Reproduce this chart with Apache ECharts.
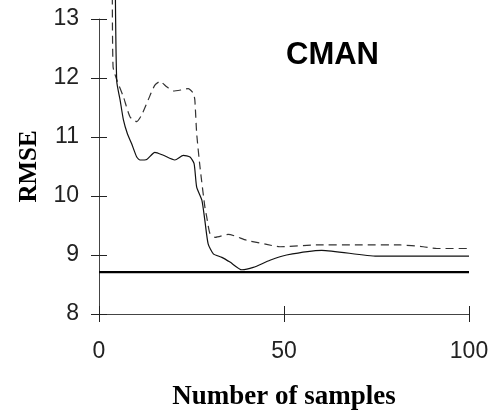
<!DOCTYPE html>
<html>
<head>
<meta charset="utf-8">
<script src="https://cdn.jsdelivr.net/npm/echarts@6/dist/echarts.min.js"></script>
<style>
  html, body { margin: 0; padding: 0; background: #fff; }
  #chart { width: 499px; height: 417px; }
</style>
</head>
<body>
<div id="chart"></div>
<script>
// solid curve
const solidX = [4.4, 4.8, 5.7, 6.6, 7.7, 8.8, 10.2, 11.1, 12.9, 15.1, 17.4, 20.5, 22.8, 24.6, 25.7, 26.4, 27.8, 28.6, 29.5, 30.9, 33.2, 35.4, 38.6, 41.7, 46.2, 50.7, 60.2, 75.1, 100];
const solidY = [13.6, 11.94, 11.63, 11.29, 11.05, 10.89, 10.66, 10.61, 10.62, 10.74, 10.69, 10.61, 10.69, 10.66, 10.55, 10.15, 9.93, 9.59, 9.19, 9.02, 8.96, 8.88, 8.75, 8.79, 8.91, 9.0, 9.08, 8.98, 8.98];
// dashed curve
const dashedX = [3.6, 3.8, 4.8, 6.6, 8.4, 10.2, 11.5, 13.3, 15.1, 16.5, 18.3, 20.1, 22.4, 24.1, 25.5, 25.9, 26.4, 27.3, 28.6, 29.1, 30.0, 31.4, 34.9, 39.9, 45.3, 48.9, 58.8, 70.5, 81.4, 87.6, 91.3, 100];
const dashedY = [13.6, 12.19, 11.97, 11.68, 11.34, 11.26, 11.37, 11.63, 11.88, 11.94, 11.85, 11.78, 11.80, 11.82, 11.74, 11.63, 11.06, 10.49, 9.82, 9.65, 9.36, 9.30, 9.35, 9.25, 9.18, 9.14, 9.17, 9.17, 9.17, 9.14, 9.11, 9.11];
// reference level
const refX = [0, 100];
const refY = [8.71, 8.71];

const xTicks = [0, 50, 100];
const yTicks = [8, 9, 10, 11, 12, 13];

const pairs = (xs, ys) => xs.map((x, i) => [x, ys[i]]);

const sans = "Liberation Sans";
const serif = "Liberation Serif";

const axisBase = {
  type: "value",
  splitLine: { show: false },
  axisLine: { show: true, lineStyle: { color: "#444", width: 1 } },
  axisTick: { show: true, length: 8, lineStyle: { color: "#222", width: 1 } }
};

const options = {
  animation: false,
  backgroundColor: "#fff",
  title: {
    text: "CMAN",
    left: 281,
    top: 35,
    textStyle: { fontFamily: sans, fontWeight: "bold", fontSize: 31, color: "#000" }
  },
  grid: { left: 99, right: 30, top: 19, bottom: 103 },
  xAxis: [
    Object.assign({}, axisBase, {
      min: xTicks[0],
      max: xTicks[xTicks.length - 1],
      interval: 50,
      name: "Number of samples",
      nameLocation: "middle",
      nameGap: 70,
      nameTextStyle: { fontFamily: serif, fontWeight: "bold", fontSize: 27, color: "#000" },
      axisLabel: { margin: 26, fontFamily: sans, fontSize: 23, color: "#222" }
    }),
    Object.assign({}, axisBase, {
      min: xTicks[0],
      max: xTicks[xTicks.length - 1],
      interval: 50,
      position: "bottom",
      axisLine: { show: false },
      axisTick: { show: true, inside: true, length: 8, lineStyle: { color: "#222", width: 1 } },
      axisLabel: { show: false }
    })
  ],
  yAxis: [
    Object.assign({}, axisBase, {
      min: yTicks[0],
      max: yTicks[yTicks.length - 1],
      interval: 1,
      name: "RMSE",
      nameLocation: "middle",
      nameGap: 53,
      nameTextStyle: { fontFamily: serif, fontWeight: "bold", fontSize: 25, color: "#000" },
      axisLabel: { margin: 20, fontFamily: sans, fontSize: 23, color: "#222" }
    }),
    Object.assign({}, axisBase, {
      min: yTicks[0],
      max: yTicks[yTicks.length - 1],
      interval: 1,
      position: "left",
      axisLine: { show: false },
      axisTick: { show: true, inside: true, length: 8, lineStyle: { color: "#222", width: 1 } },
      axisLabel: { show: false }
    })
  ],
  series: [
    {
      name: "ref",
      type: "line",
      data: pairs(refX, refY),
      symbol: "none",
      lineStyle: { color: "#000", width: 2.2 }
    },
    {
      name: "dashed",
      type: "line",
      data: pairs(dashedX, dashedY),
      symbol: "none",
      clip: false,
      smooth: 0.2,
      lineStyle: { color: "#333", width: 1.2, type: [8, 5] }
    },
    {
      name: "solid",
      type: "line",
      data: pairs(solidX, solidY),
      symbol: "none",
      clip: false,
      smooth: 0.2,
      lineStyle: { color: "#111", width: 1.2 }
    }
  ]
};

const myChart = echarts.init(document.getElementById("chart"));
myChart.setOption(options);
</script>
</body>
</html>
